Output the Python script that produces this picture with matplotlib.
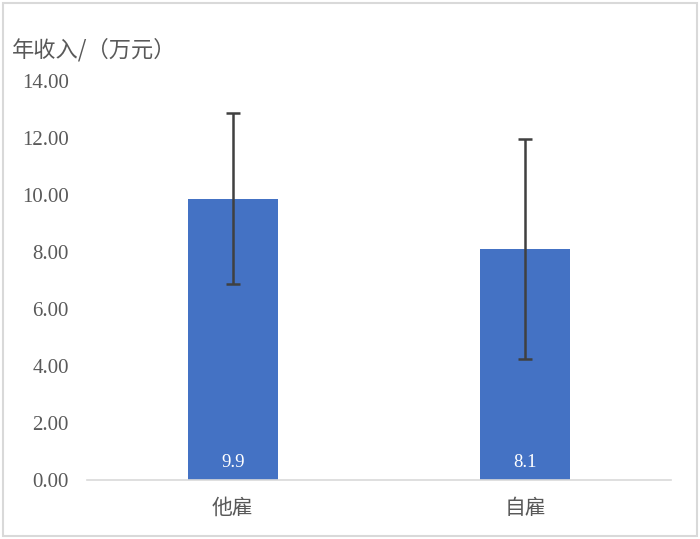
import matplotlib.pyplot as plt
from matplotlib.patches import Rectangle

categories = ['他雇', '自雇']
income = [9.86, 8.1]
income_labels = ['9.9', '8.1']
err = [3.0, 3.87]

plt.rcParams['font.family'] = ['Liberation Serif', 'Noto Sans CJK SC']

fig = plt.figure(figsize=(7, 5.39), dpi=100)
ax = fig.add_axes([0.124, 0.1095, 0.835, 0.7402])

x = range(len(categories))
ax.bar(x, income, width=0.31, color='#4472c4', zorder=2)
ax.errorbar(x, income, yerr=err, fmt='none', ecolor='#404040',
            elinewidth=1.8, capsize=5, capthick=1.8, zorder=3)

for i, lab in enumerate(income_labels):
    ax.text(i, 0.6, lab, ha='center', va='center', color='white', fontsize=13.5)

ax.set_xlim(-0.5, 1.5)
ax.set_ylim(0, 14)
ax.set_yticks([0, 2, 4, 6, 8, 10, 12, 14])
ax.set_yticklabels(['%.2f' % v for v in ax.get_yticks()])
ax.set_xticks(list(x))
ax.set_xticklabels(categories, family=['Noto Sans CJK SC'], fontsize=16)

for s in ['top', 'right', 'left']:
    ax.spines[s].set_visible(False)
ax.spines['bottom'].set_color('#d9d9d9')
ax.spines['bottom'].set_linewidth(1.2)
ax.tick_params(axis='both', length=0, colors='#595959', labelsize=15)
ax.tick_params(axis='y', pad=13)
ax.tick_params(axis='x', pad=12)

fig.text(0.017, 0.907, '年收入/（万元）', family=['Noto Sans CJK SC'],
         fontsize=16, color='#595959', va='center')

fig.patches.append(Rectangle((0.004, 0.005), 0.991, 0.99, transform=fig.transFigure,
                             fill=False, edgecolor='#d9d9d9', linewidth=1.5))

fig.savefig('out.png', dpi=100)
